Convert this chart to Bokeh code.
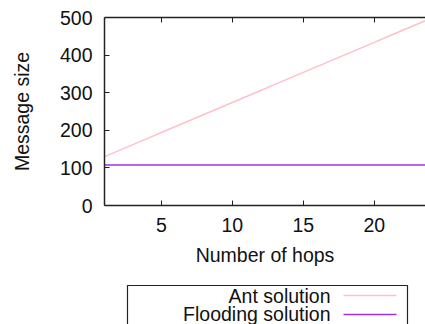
from bokeh.plotting import figure
from bokeh.models import LinearAxis, Range1d, FixedTicker
from bokeh.layouts import column
from bokeh.core.properties import value
from bokeh.embed import file_html
from bokeh.resources import INLINE

# ---- data ----
hops = [1, 2, 3, 4, 5, 6, 7, 8, 9, 10, 11, 12, 13, 14, 15, 16, 17, 18, 19, 20, 21, 22, 23, 24, 25]
ant_size = [130, 146, 162, 178, 194, 210, 226, 242, 258, 274, 290, 306, 322, 338, 354,
            370, 386, 402, 418, 434, 450, 466, 482, 498, 514]
flood_size = [108] * 25
series_names = ["Ant solution", "Flooding solution"]
series_colors = ["#ffc0cb", "#a030f0"]
x_ticks = [5, 10, 15, 20]
y_ticks = [0, 100, 200, 300, 400, 500]

FONT = "Liberation Sans"
FS = "19.5px"

p = figure(width=425, height=270, output_backend="svg", toolbar_location=None,
           x_range=Range1d(1, 23.6), y_range=Range1d(0, 500),
           min_border_left=104, min_border_right=0, min_border_top=17, min_border_bottom=65,
           x_axis_location=None, y_axis_location=None)
p.outline_line_color = None
p.grid.visible = False
p.background_fill_color = "white"
p.border_fill_color = "white"

def style_axis(ax):
    ax.axis_line_color = "#222222"
    ax.axis_line_width = 1.5
    ax.major_tick_line_color = "#222222"
    ax.major_tick_in = 5
    ax.major_tick_out = 0
    ax.minor_tick_line_color = None
    ax.major_label_text_font = FONT
    ax.major_label_text_font_size = FS
    ax.major_label_text_color = "#111111"
    ax.axis_label_text_font = FONT
    ax.axis_label_text_font_size = FS
    ax.axis_label_text_font_style = "normal"
    ax.axis_label_text_color = "#111111"

xb = LinearAxis(ticker=FixedTicker(ticks=x_ticks), axis_label="Number of hops")
style_axis(xb)
xb.major_label_standoff = 12
xb.axis_label_standoff = 9
p.add_layout(xb, "below")

# mirrored top border with inward ticks, no labels (gnuplot border)
xa = LinearAxis(ticker=FixedTicker(ticks=x_ticks))
style_axis(xa)
xa.major_label_overrides = {t: "" for t in x_ticks}
xa.major_label_standoff = 0
p.add_layout(xa, "above")

yl = LinearAxis(ticker=FixedTicker(ticks=y_ticks), axis_label="Message size")
style_axis(yl)
yl.major_label_standoff = 12
yl.axis_label_standoff = 24
p.add_layout(yl, "left")

p.line(hops, ant_size, line_color=series_colors[0], line_width=1.5)
p.line(hops, flood_size, line_color=series_colors[1], line_width=1.5)

# ---- legend strip (gnuplot style: text left, sample right), box runs off the bottom ----
# its frame lines up with the main frame (x 104..425 in page pixels)
lg = figure(width=425, height=54, output_backend="svg", toolbar_location=None,
            x_range=Range1d(104, 425), y_range=Range1d(54, 0),
            min_border_left=104, min_border_right=0, min_border_top=0, min_border_bottom=0,
            x_axis_location=None, y_axis_location=None)
lg.outline_line_color = None
lg.grid.visible = False
lg.border_fill_color = "white"
lg.background_fill_color = "white"
lg.quad(left=[127], right=[407], top=[15], bottom=[80], fill_color=None,
        line_color="#222222", line_width=1.2)
row_y = [25, 43]
lg.text(x=[330, 330], y=row_y, text=series_names, text_align="right",
        text_baseline="middle", text_font=value(FONT), text_font_size=value(FS),
        text_color="#111111")
lg.segment(x0=[343, 343], y0=[25, 44], x1=[396, 396], y1=[25, 44],
           line_color=series_colors, line_width=1.5)

layout = column(p, lg, spacing=0)
open("out.html", "w").write(file_html(layout, INLINE))
